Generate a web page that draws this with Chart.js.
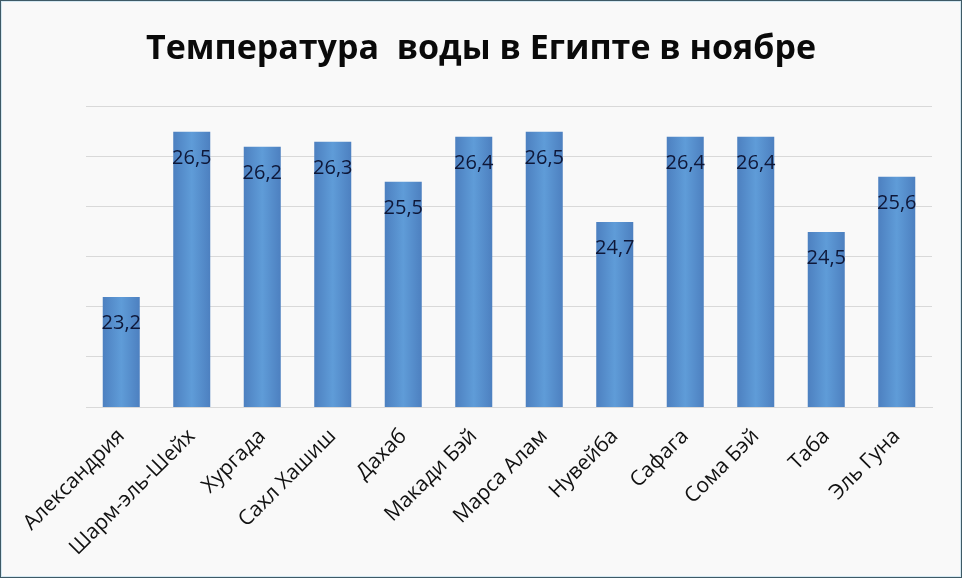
<!DOCTYPE html>
<html>
<head>
<meta charset="utf-8">
<script src="https://cdn.jsdelivr.net/npm/chart.js@4/dist/chart.umd.min.js"></script>
<style>
html,body{margin:0;padding:0;background:#f9f9f9;}
#wrap{width:962px;height:578px;position:relative;}
</style>
</head>
<body>
<div id="wrap"><canvas id="c" width="962" height="578"></canvas></div>
<script>
const titleText = 'Температура  воды в Египте в ноябре';
const categories = ['Александрия','Шарм-эль-Шейх','Хургада','Сахл Хашиш','Дахаб','Макади Бэй','Марса Алам','Нувейба','Сафага','Сома Бэй','Таба','Эль Гуна'];
const temperatures = [23.2, 26.5, 26.2, 26.3, 25.5, 26.4, 26.5, 24.7, 26.4, 26.4, 24.5, 25.6];
const yMin = 21, yMax = 27, yStep = 1;

const BAR_PCT = 0.525;

function barFill(ctx){
  const chart = ctx.chart;
  const xs = chart.scales && chart.scales.x;
  if (!xs || !chart.chartArea) return '#5b8fcf';
  const cx = xs.getPixelForTick(ctx.dataIndex);
  const w = (xs.width / categories.length) * BAR_PCT;
  const g = chart.ctx.createLinearGradient(cx - w/2, 0, cx + w/2, 0);
  g.addColorStop(0, '#4d80c0');
  g.addColorStop(0.5, '#5f9cd8');
  g.addColorStop(1, '#4d80c0');
  return g;
}

const bgPlugin = {
  id: 'bg',
  beforeDraw(chart){
    const c = chart.ctx;
    c.save();
    c.fillStyle = '#f9f9f9';
    c.fillRect(0,0,chart.width,chart.height);
    c.restore();
  },
  afterDraw(chart){
    const c = chart.ctx;
    c.save();
    c.strokeStyle = '#d4e8f2';
    c.lineWidth = 1;
    c.strokeRect(1.5,1.5,chart.width-3,chart.height-3);
    c.strokeStyle = '#3e5a66';
    c.strokeRect(0.5,0.5,chart.width-1,chart.height-1);
    c.restore();
  }
};

const valueLabels = {
  id: 'valueLabels',
  afterDatasetsDraw(chart){
    const c = chart.ctx;
    const meta = chart.getDatasetMeta(0);
    c.save();
    c.font = '20px "Open Sans"';
    c.fillStyle = '#0e1738';
    c.textAlign = 'center';
    c.textBaseline = 'middle';
    meta.data.forEach((bar, i) => {
      const txt = String(temperatures[i]).replace('.', ',');
      c.fillText(txt, bar.x, bar.y + 26);
    });
    c.restore();
  }
};

new Chart(document.getElementById('c'), {
  type: 'bar',
  data: {
    labels: categories,
    datasets: [{
      data: temperatures,
      backgroundColor: barFill,
      borderWidth: 0,
      categoryPercentage: 1,
      barPercentage: BAR_PCT
    }]
  },
  options: {
    responsive: false,
    animation: false,
    layout: { padding: 0 },
    plugins: {
      legend: { display: false },
      tooltip: { enabled: false },
      title: {
        display: true,
        text: titleText,
        color: '#0a0a0a',
        font: { family: '"Open Sans"', size: 34, weight: 'bold', lineHeight: 1.2 },
        padding: { top: 29, bottom: 37 }
      }
    },
    scales: {
      x: {
        grid: { display: false },
        border: { display: true, color: '#d9d9d9' },
        ticks: {
          color: '#111111',
          font: { family: '"Open Sans"', size: 21 },
          maxRotation: 45, minRotation: 45,
          padding: 9
        },
        afterFit(scale){ scale.height = 171; }
      },
      y: {
        position: 'left',
        min: yMin, max: yMax,
        ticks: { display: false, stepSize: yStep },
        grid: { color: '#d9d9d9', drawTicks: false, lineWidth: 1 },
        border: { display: false },
        afterFit(scale){ scale.width = 86; }
      },
      yRight: {
        position: 'right',
        display: true,
        min: yMin, max: yMax,
        ticks: { display: false },
        grid: { display: false, drawTicks: false },
        border: { display: false },
        afterFit(scale){ scale.width = 30; }
      }
    }
  },
  plugins: [bgPlugin, valueLabels]
});
</script>
</body>
</html>
